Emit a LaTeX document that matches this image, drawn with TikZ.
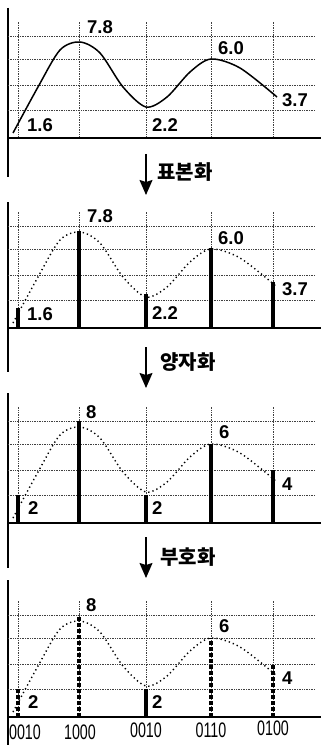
\documentclass[tikz,border=0pt]{standalone}
\usepackage{fontspec}
\usepackage{graphicx}
\setmainfont{Liberation Sans}
\newfontfamily\kofont{Noto Sans CJK KR Black}
\newfontfamily\numfont{Liberation Sans Bold}
\newfontfamily\codefont{Liberation Sans}
\usetikzlibrary{arrows.meta}

\tikzset{
  grid line/.style={densely dotted, line width=0.7pt, black!75},
  axis line/.style={line width=2pt},
  wave/.style={line width=1.5pt},
  dot wave/.style={line width=1.4pt, dash pattern=on 1.3pt off 3pt},
  stem/.style={line width=3.3pt},
  code stem/.style={line width=3.3pt, dash pattern=on 4pt off 2pt},
  val/.style={font=\numfont\fontsize{18.5}{18.5}\selectfont, anchor=west, inner sep=0pt},
  code/.style={font=\codefont\fontsize{21}{21}\selectfont, inner sep=0pt},
  step arrow/.style={-{Stealth[width=13pt,length=15pt,inset=2pt]}, line width=1.3pt},
  step label/.style={font=\kofont\fontsize{20}{20}\selectfont, anchor=west, inner sep=0pt},
}

% grid and time axis of one panel (baseline at y=0)
\newcommand{\panelgrid}{%
  \foreach \gy in {28,53,79,102}
    \draw[grid line] (8,\gy) -- (315,\gy);
  \foreach \gx in {18,79,146,211,273}
    \draw[grid line] (\gx,0) -- (\gx,116);
  \draw[axis line] (8,0) -- (321,0);
}
\newcommand{\wavepath}{plot[smooth] coordinates {(13,5) (38,51) (60,88) (80,96) (100,85) (123,51) (146,31) (167,41) (190,66) (211,79) (240,70) (277,41)}}

\begin{document}
\begin{tikzpicture}[x=1pt,y=1pt]
\useasboundingbox (0,0) rectangle (321,-754);

% left rulers
\draw[axis line] (8,-8) -- (8,-177);
\draw[axis line] (8,-202) -- (8,-372);
\draw[axis line] (8,-393) -- (8,-568);
\draw[axis line] (8,-580) -- (8,-745);

% analog signal
\begin{scope}[yshift=-138pt]
\panelgrid
\draw[wave] \wavepath;
\node[val] (a1) at (27,13) {1.6};
\node[val] (a2) at (87,111) {7.8};
\node[val] (a3) at (152,13) {2.2};
\node[val] (a4) at (218,90) {6.0};
\node[val] (a5) at (282,38) {3.7};
\end{scope}

\coordinate (p1) at (146,-154);
\coordinate (q1) at (146,-195);
\draw[step arrow] (p1) -- (q1);
\node[step label] (sampling) at (157,-172) {표본화};

% sampled
\begin{scope}[yshift=-328pt]
\panelgrid
\draw[dot wave] \wavepath;
\draw[stem] (18,0) -- (18,20);
\draw[stem] (79,0) -- (79,97);
\draw[stem] (146,0) -- (146,34);
\draw[stem] (211,0) -- (211,80);
\draw[stem] (273,0) -- (273,46);
\node[val] (b1) at (27,14) {1.6};
\node[val] (b2) at (87,112) {7.8};
\node[val] (b3) at (152,15) {2.2};
\node[val] (b4) at (218,90) {6.0};
\node[val] (b5) at (282,39) {3.7};
\end{scope}

\coordinate (p2) at (146,-347);
\coordinate (q2) at (146,-388);
\draw[step arrow] (p2) -- (q2);
\node[step label] (quantize) at (160,-362) {양자화};

% quantized
\begin{scope}[yshift=-523pt]
\panelgrid
\draw[dot wave] \wavepath;
\draw[stem] (18,0) -- (18,28);
\draw[stem] (79,0) -- (79,102);
\draw[stem] (146,0) -- (146,28);
\draw[stem] (211,0) -- (211,79);
\draw[stem] (273,0) -- (273,53);
\node[val] (c1) at (28,15) {2};
\node[val] (c2) at (86,111) {8};
\node[val] (c3) at (152,15) {2};
\node[val] (c4) at (219,91) {6};
\node[val] (c5) at (282,39) {4};
\end{scope}

\coordinate (p3) at (146,-537);
\coordinate (q3) at (146,-578);
\draw[step arrow] (p3) -- (q3);
\node[step label] (encode) at (160,-557) {부호화};

% encoded
\begin{scope}[yshift=-717pt]
\panelgrid
\draw[dot wave] \wavepath;
\draw[code stem] (18,0) -- (18,28);
\draw[code stem] (79,0) -- (79,102);
\draw[stem] (146,0) -- (146,28);
\draw[code stem] (211,0) -- (211,79);
\draw[code stem] (273,0) -- (273,53);
\node[val] (d1) at (28,15) {2};
\node[val] (d2) at (86,112) {8};
\node[val] (d3) at (152,15) {2};
\node[val] (d4) at (219,91) {6};
\node[val] (d5) at (282,39) {4};
\node[code] (e1) at (25,-15) {\scalebox{0.68}[1]{0010}};
\node[code] (e2) at (80,-15) {\scalebox{0.68}[1]{1000}};
\node[code] (e3) at (146,-13) {\scalebox{0.68}[1]{0010}};
\node[code] (e4) at (211,-13) {\scalebox{0.68}[1]{0110}};
\node[code] (e5) at (273,-11) {\scalebox{0.68}[1]{0100}};
\end{scope}
\end{tikzpicture}
\end{document}
